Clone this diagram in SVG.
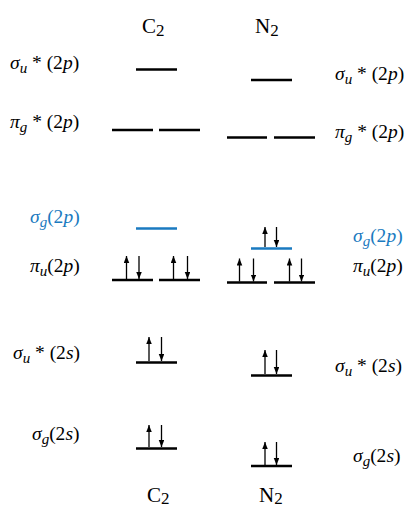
<svg xmlns="http://www.w3.org/2000/svg" width="410" height="508" viewBox="0 0 410 508">
<style>
text{font-family:"Liberation Serif","Times New Roman",serif;font-size:19.5px;fill:#000}
.t{font-size:21px}
.i{font-style:italic}
.sub{font-size:15px;font-style:italic}
.s2{font-size:17px}
.blue{fill:#1a7ac0}
.lv{stroke:#000;stroke-width:2.5}
.lvb{stroke:#1a7ac0;stroke-width:2.5}
.e{stroke:#000;stroke-width:1.3;marker-end:url(#ah)}
</style>
<defs>
<marker id="ah" markerUnits="userSpaceOnUse" markerWidth="8" markerHeight="6" refX="7" refY="2.75" orient="auto">
<path d="M0,0 L7,2.75 L0,5.5 Z" fill="#000"/>
</marker>
</defs>
<g id="titles">
<text class="t" x="142" y="33">C<tspan class="s2" dy="3">2</tspan></text>
<text class="t" x="255" y="33">N<tspan class="s2" dy="3">2</tspan></text>
<text class="t" x="147" y="502">C<tspan class="s2" dy="2">2</tspan></text>
<text class="t" x="259" y="502">N<tspan class="s2" dy="2">2</tspan></text>
</g>
<g id="labels-left">
<text x="10" y="69"><tspan class="i">σ</tspan><tspan class="sub" dy="4">u</tspan><tspan dy="-4"> * (2</tspan><tspan class="i">p</tspan>)</text>
<text x="10" y="128"><tspan class="i">π</tspan><tspan class="sub" dy="4">g</tspan><tspan dy="-4"> * (2</tspan><tspan class="i">p</tspan>)</text>
<text x="30" y="223" class="blue"><tspan class="i">σ</tspan><tspan class="sub" dy="4">g</tspan><tspan dy="-4">(2</tspan><tspan class="i">p</tspan>)</text>
<text x="30" y="272"><tspan class="i">π</tspan><tspan class="sub" dy="4">u</tspan><tspan dy="-4">(2</tspan><tspan class="i">p</tspan>)</text>
<text x="13" y="359"><tspan class="i">σ</tspan><tspan class="sub" dy="4">u</tspan><tspan dy="-4"> * (2</tspan><tspan class="i">s</tspan>)</text>
<text x="32" y="440"><tspan class="i">σ</tspan><tspan class="sub" dy="4">g</tspan><tspan dy="-4">(2</tspan><tspan class="i">s</tspan>)</text>
</g>
<g id="labels-right">
<text x="335" y="80"><tspan class="i">σ</tspan><tspan class="sub" dy="4">u</tspan><tspan dy="-4"> * (2</tspan><tspan class="i">p</tspan>)</text>
<text x="335" y="138"><tspan class="i">π</tspan><tspan class="sub" dy="4">g</tspan><tspan dy="-4"> * (2</tspan><tspan class="i">p</tspan>)</text>
<text x="353" y="242" class="blue"><tspan class="i">σ</tspan><tspan class="sub" dy="4">g</tspan><tspan dy="-4">(2</tspan><tspan class="i">p</tspan>)</text>
<text x="353" y="272"><tspan class="i">π</tspan><tspan class="sub" dy="4">u</tspan><tspan dy="-4">(2</tspan><tspan class="i">p</tspan>)</text>
<text x="335" y="372"><tspan class="i">σ</tspan><tspan class="sub" dy="4">u</tspan><tspan dy="-4"> * (2</tspan><tspan class="i">s</tspan>)</text>
<text x="353" y="462"><tspan class="i">σ</tspan><tspan class="sub" dy="4">g</tspan><tspan dy="-4">(2</tspan><tspan class="i">s</tspan>)</text>
</g>
<g id="C2-levels">
<line class="lv" x1="136" y1="69.5" x2="177" y2="69.5"/>
<line class="lv" x1="112" y1="130" x2="153" y2="130"/>
<line class="lv" x1="159" y1="130" x2="200" y2="130"/>
<line class="lvb" x1="136" y1="228.5" x2="177" y2="228.5"/>
<line class="lv" x1="112" y1="280" x2="153" y2="280"/>
<line class="lv" x1="159" y1="280" x2="200" y2="280"/>
<line class="lv" x1="136" y1="362.5" x2="177" y2="362.5"/>
<line class="lv" x1="136" y1="448.5" x2="177" y2="448.5"/>
</g>
<g id="N2-levels">
<line class="lv" x1="251" y1="80" x2="292" y2="80"/>
<line class="lv" x1="227" y1="137.5" x2="267" y2="137.5"/>
<line class="lv" x1="274" y1="137.5" x2="315" y2="137.5"/>
<line class="lvb" x1="251" y1="248.5" x2="292" y2="248.5"/>
<line class="lv" x1="227" y1="282.5" x2="267" y2="282.5"/>
<line class="lv" x1="274" y1="282.5" x2="315" y2="282.5"/>
<line class="lv" x1="251" y1="375.5" x2="292" y2="375.5"/>
<line class="lv" x1="251" y1="466" x2="292" y2="466"/>
</g>
<g id="electrons">
<line class="e" x1="126.5" y1="279" x2="126.5" y2="256"/>
<line class="e" x1="139" y1="256" x2="139" y2="279"/>
<line class="e" x1="173.5" y1="279" x2="173.5" y2="256"/>
<line class="e" x1="187.5" y1="256" x2="187.5" y2="279"/>
<line class="e" x1="149" y1="361" x2="149" y2="337"/>
<line class="e" x1="161.5" y1="337" x2="161.5" y2="361"/>
<line class="e" x1="149" y1="447" x2="149" y2="425"/>
<line class="e" x1="161.5" y1="425" x2="161.5" y2="447"/>
<line class="e" x1="265" y1="247" x2="265" y2="227"/>
<line class="e" x1="276.5" y1="227" x2="276.5" y2="247"/>
<line class="e" x1="239.5" y1="281.5" x2="239.5" y2="258.5"/>
<line class="e" x1="253.5" y1="258.5" x2="253.5" y2="281.5"/>
<line class="e" x1="289.5" y1="281.5" x2="289.5" y2="258.5"/>
<line class="e" x1="301.5" y1="258.5" x2="301.5" y2="281.5"/>
<line class="e" x1="265" y1="374" x2="265" y2="350"/>
<line class="e" x1="276.5" y1="350" x2="276.5" y2="374"/>
<line class="e" x1="265" y1="465" x2="265" y2="442"/>
<line class="e" x1="276.5" y1="442" x2="276.5" y2="465"/>
</g>
</svg>
